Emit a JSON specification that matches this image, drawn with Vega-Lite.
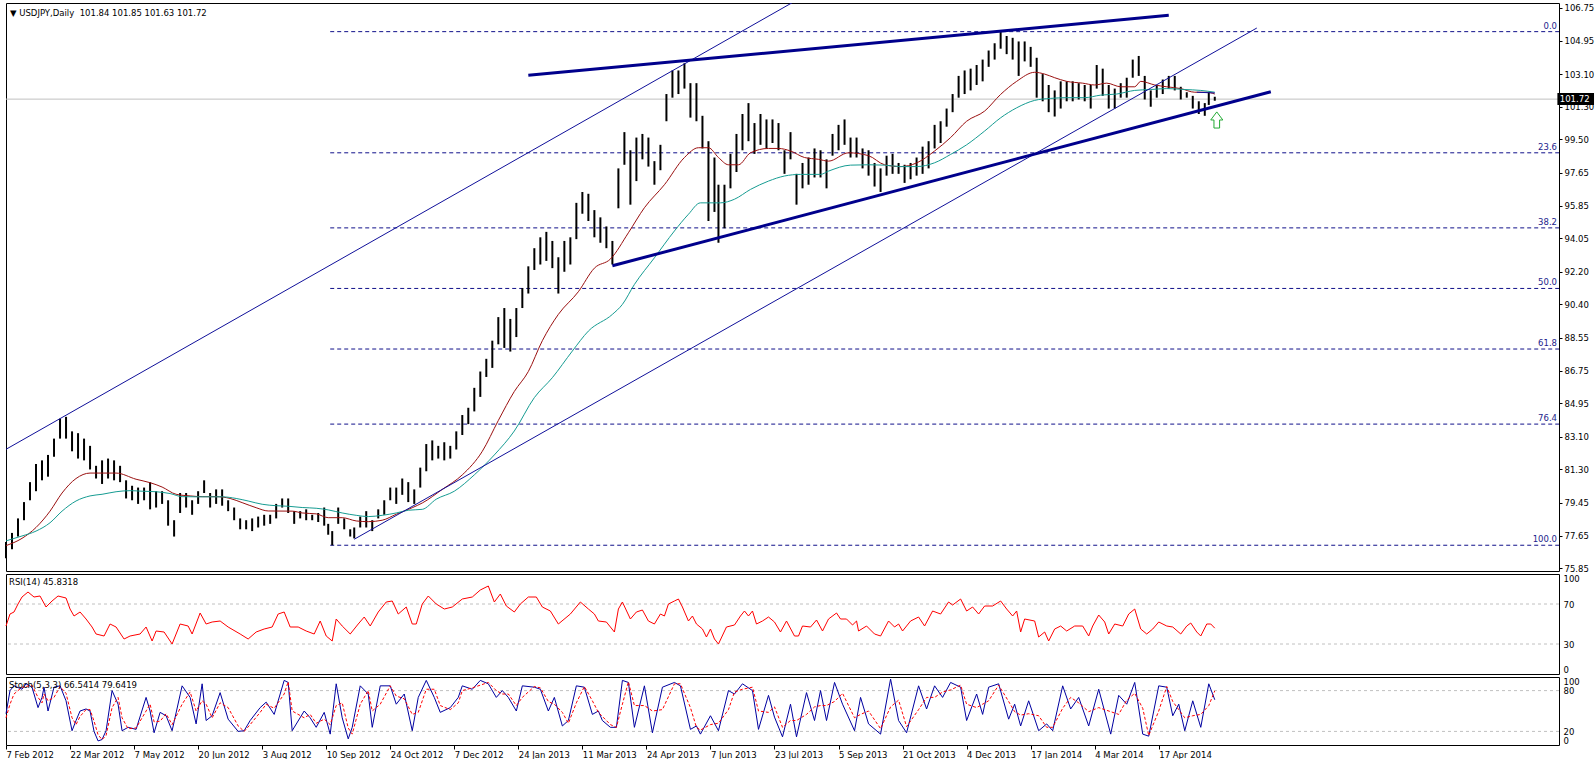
{
"$schema":"https://vega.github.io/schema/vega-lite/v6.json",
"padding":{"left":3,"top":2,"right":0,"bottom":0},
"background":"white",
"spacing":3,
"bounds":"flush",
"config":{"view":{"stroke":"black","strokeWidth":1},"font":"DejaVu Sans",
"axis":{"labelFont":"DejaVu Sans","labelFontSize":8.5,"labelColor":"black","tickColor":"black","domain":false,"grid":false,"labelOverlap":false,"labelSeparation":0},
"title":{"font":"DejaVu Sans","fontSize":8.5,"fontWeight":"normal","color":"black","anchor":"start","frame":"group"}},
"datasets":{
"px":[{"i":0,"h":77.3,"l":76.4},{"i":3,"h":77.8,"l":76.9},{"i":6,"h":78.6,"l":77.6},{"i":9,"h":79.5,"l":78.5},{"i":12,"h":80.6,"l":79.6},{"i":15,"h":81.6,"l":80.1},{"i":18,"h":81.8,"l":80.7},{"i":21,"h":82.1,"l":80.9},{"i":24,"h":83.0,"l":82.0},{"i":27,"h":84.1,"l":83.0},{"i":30,"h":84.2,"l":83.0},{"i":33,"h":83.4,"l":82.3},{"i":36,"h":83.3,"l":81.9},{"i":39,"h":83.0,"l":81.8},{"i":42,"h":82.6,"l":81.3},{"i":45,"h":81.5,"l":80.8},{"i":48,"h":81.8,"l":80.5},{"i":51,"h":81.9,"l":80.8},{"i":54,"h":81.8,"l":80.7},{"i":57,"h":81.5,"l":80.6},{"i":60,"h":80.7,"l":79.7},{"i":63,"h":80.4,"l":79.6},{"i":66,"h":80.3,"l":79.4},{"i":69,"h":80.3,"l":79.6},{"i":72,"h":80.6,"l":79.1},{"i":75,"h":80.1,"l":79.2},{"i":78,"h":80.1,"l":79.4},{"i":81,"h":79.6,"l":78.2},{"i":84,"h":78.5,"l":77.6},{"i":87,"h":80.0,"l":78.9},{"i":90,"h":80.0,"l":79.2},{"i":93,"h":79.6,"l":78.8},{"i":96,"h":80.1,"l":79.4},{"i":99,"h":80.7,"l":80.0},{"i":102,"h":80.0,"l":79.2},{"i":105,"h":80.2,"l":79.4},{"i":108,"h":80.2,"l":79.3},{"i":111,"h":79.6,"l":79.0},{"i":114,"h":79.2,"l":78.5},{"i":117,"h":78.6,"l":78.0},{"i":120,"h":78.5,"l":78.0},{"i":123,"h":78.6,"l":77.9},{"i":126,"h":78.7,"l":78.1},{"i":129,"h":78.8,"l":78.2},{"i":132,"h":78.8,"l":78.3},{"i":135,"h":79.4,"l":78.6},{"i":138,"h":79.7,"l":79.2},{"i":141,"h":79.7,"l":78.9},{"i":144,"h":79.0,"l":78.3},{"i":147,"h":79.0,"l":78.6},{"i":150,"h":79.1,"l":78.5},{"i":153,"h":78.8,"l":78.5},{"i":156,"h":78.9,"l":78.4},{"i":159,"h":79.2,"l":78.2},{"i":161,"h":78.3,"l":77.7},{"i":163,"h":77.9,"l":77.12},{"i":166,"h":79.2,"l":78.3},{"i":169,"h":78.6,"l":78.0},{"i":172,"h":78.0,"l":77.6},{"i":174,"h":78.1,"l":77.5},{"i":177,"h":78.7,"l":78.1},{"i":180,"h":79.0,"l":78.1},{"i":183,"h":78.5,"l":77.9},{"i":186,"h":79.1,"l":78.6},{"i":189,"h":79.6,"l":78.8},{"i":192,"h":80.3,"l":79.6},{"i":195,"h":80.3,"l":79.4},{"i":198,"h":80.8,"l":79.9},{"i":201,"h":80.6,"l":79.5},{"i":204,"h":80.2,"l":79.4},{"i":207,"h":81.4,"l":80.3},{"i":210,"h":82.7,"l":81.2},{"i":213,"h":82.9,"l":81.8},{"i":216,"h":82.6,"l":81.9},{"i":219,"h":82.8,"l":81.8},{"i":222,"h":82.6,"l":81.9},{"i":225,"h":83.4,"l":82.4},{"i":228,"h":84.3,"l":83.2},{"i":231,"h":84.7,"l":83.8},{"i":234,"h":85.8,"l":84.5},{"i":237,"h":86.7,"l":85.3},{"i":240,"h":87.4,"l":86.4},{"i":243,"h":88.4,"l":86.9},{"i":246,"h":89.7,"l":88.2},{"i":249,"h":90.2,"l":88.0},{"i":252,"h":89.6,"l":87.8},{"i":255,"h":90.2,"l":88.6},{"i":258,"h":91.3,"l":90.2},{"i":261,"h":92.5,"l":91.0},{"i":264,"h":93.5,"l":92.3},{"i":267,"h":94.1,"l":92.6},{"i":270,"h":94.4,"l":92.8},{"i":273,"h":93.9,"l":92.4},{"i":276,"h":93.0,"l":91.0},{"i":279,"h":93.9,"l":92.2},{"i":282,"h":94.1,"l":92.6},{"i":285,"h":96.0,"l":94.0},{"i":288,"h":96.6,"l":95.4},{"i":291,"h":96.5,"l":95.0},{"i":294,"h":95.6,"l":94.1},{"i":297,"h":95.2,"l":93.8},{"i":300,"h":94.7,"l":93.5},{"i":303,"h":93.9,"l":92.6},{"i":306,"h":97.9,"l":95.7},{"i":309,"h":99.9,"l":98.1},{"i":312,"h":98.9,"l":95.9},{"i":315,"h":99.6,"l":97.2},{"i":318,"h":99.8,"l":98.4},{"i":321,"h":99.6,"l":98.0},{"i":324,"h":98.3,"l":97.0},{"i":327,"h":99.2,"l":97.8},{"i":330,"h":102.0,"l":100.5},{"i":333,"h":103.3,"l":101.8},{"i":336,"h":103.3,"l":102.0},{"i":339,"h":103.7,"l":102.3},{"i":342,"h":102.6,"l":100.7},{"i":345,"h":102.6,"l":100.5},{"i":348,"h":100.8,"l":99.0},{"i":351,"h":99.4,"l":95.0},{"i":354,"h":98.5,"l":95.5},{"i":356,"h":97.0,"l":93.8},{"i":359,"h":97.0,"l":94.6},{"i":362,"h":98.7,"l":96.8},{"i":365,"h":99.8,"l":97.7},{"i":368,"h":100.9,"l":98.9},{"i":371,"h":101.5,"l":99.4},{"i":374,"h":100.4,"l":98.7},{"i":377,"h":100.9,"l":99.2},{"i":380,"h":100.6,"l":99.0},{"i":383,"h":100.6,"l":99.3},{"i":386,"h":100.4,"l":98.9},{"i":389,"h":98.9,"l":97.6},{"i":392,"h":99.9,"l":98.4},{"i":395,"h":97.6,"l":95.9},{"i":398,"h":98.2,"l":96.8},{"i":401,"h":98.5,"l":97.0},{"i":404,"h":99.0,"l":97.4},{"i":407,"h":98.9,"l":97.4},{"i":410,"h":98.4,"l":96.8},{"i":413,"h":99.8,"l":98.6},{"i":416,"h":100.3,"l":98.9},{"i":419,"h":100.6,"l":99.2},{"i":422,"h":99.6,"l":98.5},{"i":425,"h":99.6,"l":98.5},{"i":428,"h":99.0,"l":97.9},{"i":431,"h":98.9,"l":97.5},{"i":434,"h":98.2,"l":96.9},{"i":437,"h":97.9,"l":96.6},{"i":440,"h":98.6,"l":97.5},{"i":443,"h":98.7,"l":97.6},{"i":446,"h":98.2,"l":97.6},{"i":449,"h":98.1,"l":97.1},{"i":452,"h":98.2,"l":97.3},{"i":455,"h":98.5,"l":97.5},{"i":458,"h":99.1,"l":97.6},{"i":461,"h":99.4,"l":97.9},{"i":464,"h":100.3,"l":99.0},{"i":467,"h":100.5,"l":99.3},{"i":470,"h":101.2,"l":100.2},{"i":473,"h":102.0,"l":101.0},{"i":476,"h":103.0,"l":101.8},{"i":479,"h":103.3,"l":102.0},{"i":482,"h":103.4,"l":102.2},{"i":485,"h":103.6,"l":102.5},{"i":488,"h":103.9,"l":102.7},{"i":491,"h":104.4,"l":103.5},{"i":494,"h":104.8,"l":103.9},{"i":497,"h":105.44,"l":104.5},{"i":500,"h":105.2,"l":104.2},{"i":503,"h":105.1,"l":103.9},{"i":506,"h":104.9,"l":103.0},{"i":509,"h":104.9,"l":103.8},{"i":512,"h":104.6,"l":103.5},{"i":515,"h":104.0,"l":101.8},{"i":518,"h":103.1,"l":101.6},{"i":521,"h":102.5,"l":101.0},{"i":524,"h":102.2,"l":100.76},{"i":527,"h":102.7,"l":101.2},{"i":530,"h":102.7,"l":101.6},{"i":533,"h":102.7,"l":101.6},{"i":536,"h":102.6,"l":101.7},{"i":539,"h":102.5,"l":101.6},{"i":542,"h":102.5,"l":101.2},{"i":545,"h":103.6,"l":102.3},{"i":548,"h":103.4,"l":101.9},{"i":551,"h":102.5,"l":101.2},{"i":554,"h":102.3,"l":101.2},{"i":557,"h":102.6,"l":101.8},{"i":560,"h":102.9,"l":101.8},{"i":563,"h":103.9,"l":102.9},{"i":566,"h":104.1,"l":103.0},{"i":569,"h":103.0,"l":101.7},{"i":572,"h":102.2,"l":101.3},{"i":575,"h":102.5,"l":101.8},{"i":578,"h":102.8,"l":102.0},{"i":581,"h":103.0,"l":102.3},{"i":584,"h":103.0,"l":102.2},{"i":587,"h":102.4,"l":101.7},{"i":590,"h":102.1,"l":101.8},{"i":593,"h":101.9,"l":101.2},{"i":596,"h":101.6,"l":100.9},{"i":599,"h":101.5,"l":100.8},{"i":601,"h":102.1,"l":101.4},{"i":604,"h":101.85,"l":101.63}],
"ma1":[{"i":0,"v":77.1},{"i":8,"v":77.5},{"i":15,"v":78.1},{"i":22,"v":79.0},{"i":28,"v":80.0},{"i":35,"v":80.8},{"i":42,"v":81.1},{"i":48,"v":81.1},{"i":55,"v":81.1},{"i":65,"v":80.76},{"i":72,"v":80.57},{"i":78,"v":80.33},{"i":85,"v":79.93},{"i":92,"v":79.84},{"i":98,"v":79.8},{"i":105,"v":79.8},{"i":112,"v":79.7},{"i":118,"v":79.47},{"i":125,"v":79.19},{"i":131,"v":79.01},{"i":143,"v":79.0},{"i":148,"v":78.9},{"i":155,"v":78.85},{"i":161,"v":78.64},{"i":168,"v":78.64},{"i":175,"v":78.46},{"i":181,"v":78.42},{"i":188,"v":78.5},{"i":195,"v":78.83},{"i":203,"v":79.19},{"i":208,"v":79.45},{"i":218,"v":80.2},{"i":228,"v":81.0},{"i":238,"v":82.3},{"i":246,"v":84.0},{"i":254,"v":85.6},{"i":261,"v":86.7},{"i":268,"v":88.4},{"i":276,"v":89.85},{"i":286,"v":91.1},{"i":294,"v":92.4},{"i":302,"v":92.9},{"i":311,"v":94.35},{"i":319,"v":95.73},{"i":329,"v":97.0},{"i":339,"v":98.5},{"i":346,"v":99.04},{"i":351,"v":99.04},{"i":356,"v":98.5},{"i":361,"v":98.1},{"i":366,"v":98.1},{"i":372,"v":98.76},{"i":381,"v":99.0},{"i":386,"v":99.0},{"i":392,"v":98.86},{"i":399,"v":98.5},{"i":406,"v":98.4},{"i":411,"v":98.3},{"i":421,"v":98.76},{"i":431,"v":98.6},{"i":439,"v":98.1},{"i":447,"v":98.0},{"i":455,"v":98.2},{"i":464,"v":98.86},{"i":472,"v":99.6},{"i":480,"v":100.5},{"i":489,"v":101.06},{"i":497,"v":101.98},{"i":505,"v":102.7},{"i":514,"v":103.2},{"i":519,"v":103.1},{"i":524,"v":102.9},{"i":530,"v":102.7},{"i":538,"v":102.6},{"i":544,"v":102.5},{"i":550,"v":102.6},{"i":557,"v":102.4},{"i":564,"v":102.4},{"i":567,"v":102.7},{"i":574,"v":102.5},{"i":580,"v":102.4},{"i":587,"v":102.3},{"i":594,"v":102.1},{"i":600,"v":102.1},{"i":604,"v":102.0}],
"ma2":[{"i":0,"v":77.36},{"i":8,"v":77.63},{"i":15,"v":77.9},{"i":22,"v":78.36},{"i":28,"v":79.0},{"i":35,"v":79.56},{"i":42,"v":79.84},{"i":48,"v":79.93},{"i":55,"v":80.07},{"i":62,"v":80.13},{"i":68,"v":80.1},{"i":75,"v":80.07},{"i":82,"v":79.97},{"i":88,"v":79.8},{"i":95,"v":79.79},{"i":108,"v":79.79},{"i":115,"v":79.7},{"i":121,"v":79.56},{"i":128,"v":79.38},{"i":135,"v":79.3},{"i":141,"v":79.27},{"i":148,"v":79.2},{"i":155,"v":79.16},{"i":161,"v":79.07},{"i":168,"v":78.9},{"i":175,"v":78.77},{"i":181,"v":78.7},{"i":188,"v":78.77},{"i":195,"v":78.9},{"i":201,"v":79.05},{"i":208,"v":79.1},{"i":215,"v":79.66},{"i":224,"v":80.1},{"i":234,"v":81.0},{"i":244,"v":82.1},{"i":254,"v":83.42},{"i":264,"v":85.26},{"i":273,"v":86.36},{"i":283,"v":87.83},{"i":291,"v":88.93},{"i":303,"v":89.85},{"i":308,"v":90.4},{"i":314,"v":91.5},{"i":324,"v":92.97},{"i":334,"v":94.45},{"i":341,"v":95.37},{"i":347,"v":96.0},{"i":357,"v":96.0},{"i":364,"v":96.2},{"i":372,"v":96.74},{"i":381,"v":97.2},{"i":389,"v":97.48},{"i":397,"v":97.57},{"i":407,"v":97.57},{"i":411,"v":97.75},{"i":422,"v":98.08},{"i":431,"v":98.1},{"i":439,"v":98.08},{"i":447,"v":98.0},{"i":455,"v":98.0},{"i":464,"v":98.21},{"i":472,"v":98.67},{"i":480,"v":99.2},{"i":489,"v":99.96},{"i":497,"v":100.69},{"i":505,"v":101.24},{"i":514,"v":101.65},{"i":522,"v":101.76},{"i":530,"v":101.8},{"i":539,"v":101.8},{"i":547,"v":101.94},{"i":555,"v":102.0},{"i":564,"v":102.2},{"i":572,"v":102.25},{"i":580,"v":102.3},{"i":589,"v":102.25},{"i":597,"v":102.2},{"i":604,"v":102.1}],
"thin":[{"g":"a","i":0,"p":82.41},{"g":"a","i":420,"p":108.74},{"g":"b","i":174,"p":77.45},{"g":"b","i":625,"p":105.64},{"g":"e","i":595,"p":102.1},{"g":"e","i":604,"p":102.06}],
"thick":[{"g":"c","i":261,"p":103.03},{"g":"c","i":581,"p":106.34},{"g":"d","i":303,"p":92.53},{"g":"d","i":632,"p":102.13}],
"fib":[{"lv":"0.0","p":105.44},{"lv":"23.6","p":98.76},{"lv":"38.2","p":94.62},{"lv":"50.0","p":91.28},{"lv":"61.8","p":87.94},{"lv":"76.4","p":83.8},{"lv":"100.0","p":77.12}],
"rsi":[{"i":0,"r":48},{"i":2,"r":60},{"i":4,"r":62},{"i":6,"r":70},{"i":8,"r":77},{"i":11,"r":82},{"i":14,"r":77},{"i":17,"r":78},{"i":20,"r":67},{"i":23,"r":73},{"i":26,"r":78},{"i":30,"r":76},{"i":32,"r":65},{"i":34,"r":58},{"i":37,"r":62},{"i":40,"r":55},{"i":43,"r":47},{"i":45,"r":40},{"i":49,"r":38},{"i":52,"r":50},{"i":55,"r":47},{"i":59,"r":35},{"i":62,"r":38},{"i":67,"r":40},{"i":70,"r":47},{"i":73,"r":33},{"i":75,"r":43},{"i":79,"r":42},{"i":83,"r":30},{"i":87,"r":50},{"i":91,"r":48},{"i":93,"r":40},{"i":97,"r":61},{"i":100,"r":50},{"i":103,"r":52},{"i":107,"r":53},{"i":111,"r":47},{"i":117,"r":40},{"i":121,"r":35},{"i":125,"r":42},{"i":129,"r":45},{"i":133,"r":47},{"i":136,"r":60},{"i":139,"r":62},{"i":142,"r":47},{"i":146,"r":47},{"i":150,"r":43},{"i":154,"r":40},{"i":157,"r":53},{"i":160,"r":38},{"i":163,"r":33},{"i":165,"r":55},{"i":168,"r":48},{"i":172,"r":40},{"i":176,"r":50},{"i":179,"r":57},{"i":182,"r":48},{"i":186,"r":62},{"i":190,"r":72},{"i":193,"r":73},{"i":196,"r":60},{"i":200,"r":67},{"i":203,"r":50},{"i":205,"r":50},{"i":208,"r":70},{"i":211,"r":78},{"i":215,"r":70},{"i":219,"r":65},{"i":223,"r":67},{"i":228,"r":75},{"i":233,"r":77},{"i":237,"r":84},{"i":241,"r":88},{"i":244,"r":72},{"i":247,"r":80},{"i":250,"r":68},{"i":254,"r":62},{"i":257,"r":70},{"i":261,"r":77},{"i":265,"r":77},{"i":268,"r":67},{"i":272,"r":63},{"i":276,"r":50},{"i":282,"r":60},{"i":287,"r":72},{"i":291,"r":65},{"i":294,"r":60},{"i":296,"r":53},{"i":300,"r":52},{"i":304,"r":42},{"i":306,"r":65},{"i":308,"r":72},{"i":312,"r":55},{"i":315,"r":62},{"i":318,"r":64},{"i":321,"r":53},{"i":324,"r":50},{"i":327,"r":60},{"i":329,"r":58},{"i":331,"r":70},{"i":334,"r":73},{"i":336,"r":75},{"i":338,"r":67},{"i":341,"r":53},{"i":343,"r":58},{"i":345,"r":50},{"i":348,"r":45},{"i":350,"r":37},{"i":352,"r":45},{"i":354,"r":35},{"i":356,"r":30},{"i":360,"r":47},{"i":364,"r":49},{"i":367,"r":58},{"i":369,"r":63},{"i":371,"r":58},{"i":373,"r":63},{"i":375,"r":50},{"i":378,"r":53},{"i":381,"r":57},{"i":384,"r":52},{"i":387,"r":42},{"i":390,"r":53},{"i":394,"r":38},{"i":396,"r":38},{"i":398,"r":48},{"i":402,"r":47},{"i":405,"r":54},{"i":408,"r":43},{"i":411,"r":55},{"i":415,"r":61},{"i":417,"r":55},{"i":420,"r":55},{"i":423,"r":49},{"i":425,"r":53},{"i":426,"r":43},{"i":430,"r":48},{"i":434,"r":40},{"i":437,"r":38},{"i":441,"r":53},{"i":444,"r":47},{"i":446,"r":50},{"i":448,"r":43},{"i":452,"r":53},{"i":456,"r":57},{"i":459,"r":48},{"i":463,"r":63},{"i":467,"r":60},{"i":471,"r":72},{"i":473,"r":69},{"i":477,"r":75},{"i":480,"r":63},{"i":483,"r":67},{"i":486,"r":60},{"i":489,"r":68},{"i":493,"r":68},{"i":497,"r":73},{"i":500,"r":65},{"i":503,"r":58},{"i":505,"r":63},{"i":507,"r":42},{"i":509,"r":55},{"i":514,"r":53},{"i":516,"r":37},{"i":519,"r":42},{"i":521,"r":33},{"i":524,"r":45},{"i":527,"r":48},{"i":530,"r":43},{"i":534,"r":48},{"i":538,"r":48},{"i":541,"r":38},{"i":543,"r":48},{"i":546,"r":59},{"i":549,"r":52},{"i":551,"r":40},{"i":554,"r":50},{"i":558,"r":48},{"i":561,"r":60},{"i":564,"r":65},{"i":567,"r":45},{"i":570,"r":40},{"i":573,"r":45},{"i":576,"r":52},{"i":580,"r":48},{"i":583,"r":47},{"i":587,"r":40},{"i":590,"r":48},{"i":592,"r":51},{"i":595,"r":42},{"i":597,"r":38},{"i":600,"r":50},{"i":602,"r":50},{"i":604,"r":45.83}],
"st":[{"i":0,"k":46,"d":40},{"i":2,"k":80,"d":60},{"i":4,"k":87,"d":75},{"i":8,"k":82,"d":85},{"i":10,"k":90,"d":86},{"i":13,"k":85,"d":88},{"i":16,"k":55,"d":70},{"i":18,"k":70,"d":62},{"i":19,"k":85,"d":75},{"i":21,"k":50,"d":65},{"i":24,"k":85,"d":70},{"i":27,"k":87,"d":86},{"i":30,"k":65,"d":76},{"i":33,"k":21,"d":40},{"i":35,"k":36,"d":30},{"i":37,"k":50,"d":42},{"i":40,"k":53,"d":52},{"i":42,"k":50,"d":52},{"i":44,"k":20,"d":35},{"i":46,"k":6,"d":15},{"i":48,"k":8,"d":8},{"i":50,"k":21,"d":14},{"i":53,"k":80,"d":55},{"i":56,"k":60,"d":70},{"i":58,"k":21,"d":40},{"i":61,"k":26,"d":24},{"i":65,"k":23,"d":25},{"i":70,"k":70,"d":50},{"i":72,"k":50,"d":60},{"i":74,"k":18,"d":34},{"i":77,"k":48,"d":35},{"i":80,"k":43,"d":46},{"i":83,"k":21,"d":30},{"i":88,"k":87,"d":60},{"i":92,"k":70,"d":78},{"i":95,"k":31,"d":50},{"i":98,"k":90,"d":65},{"i":100,"k":36,"d":60},{"i":103,"k":43,"d":40},{"i":107,"k":77,"d":62},{"i":111,"k":38,"d":55},{"i":116,"k":20,"d":28},{"i":119,"k":21,"d":20},{"i":122,"k":36,"d":30},{"i":127,"k":55,"d":48},{"i":130,"k":63,"d":60},{"i":134,"k":45,"d":54},{"i":139,"k":95,"d":75},{"i":141,"k":92,"d":93},{"i":143,"k":21,"d":50},{"i":149,"k":50,"d":40},{"i":152,"k":40,"d":45},{"i":155,"k":26,"d":32},{"i":159,"k":48,"d":38},{"i":162,"k":16,"d":30},{"i":165,"k":90,"d":58},{"i":168,"k":40,"d":62},{"i":171,"k":9,"d":25},{"i":173,"k":26,"d":16},{"i":177,"k":87,"d":60},{"i":181,"k":75,"d":80},{"i":183,"k":26,"d":50},{"i":187,"k":87,"d":60},{"i":192,"k":87,"d":87},{"i":195,"k":60,"d":72},{"i":199,"k":75,"d":68},{"i":203,"k":21,"d":45},{"i":206,"k":70,"d":48},{"i":210,"k":95,"d":82},{"i":214,"k":70,"d":82},{"i":217,"k":48,"d":58},{"i":222,"k":55,"d":52},{"i":226,"k":70,"d":62},{"i":228,"k":87,"d":80},{"i":233,"k":82,"d":84},{"i":237,"k":95,"d":88},{"i":241,"k":90,"d":92},{"i":245,"k":70,"d":80},{"i":248,"k":80,"d":75},{"i":251,"k":70,"d":75},{"i":255,"k":50,"d":58},{"i":258,"k":87,"d":70},{"i":264,"k":85,"d":86},{"i":267,"k":82,"d":84},{"i":271,"k":50,"d":64},{"i":274,"k":70,"d":60},{"i":278,"k":28,"d":48},{"i":281,"k":36,"d":32},{"i":285,"k":87,"d":62},{"i":289,"k":85,"d":86},{"i":293,"k":45,"d":65},{"i":296,"k":50,"d":48},{"i":298,"k":36,"d":42},{"i":302,"k":26,"d":30},{"i":305,"k":26,"d":26},{"i":308,"k":95,"d":60},{"i":311,"k":92,"d":93},{"i":314,"k":26,"d":58},{"i":319,"k":87,"d":58},{"i":323,"k":18,"d":50},{"i":328,"k":85,"d":52},{"i":334,"k":92,"d":90},{"i":337,"k":87,"d":90},{"i":342,"k":23,"d":55},{"i":345,"k":28,"d":26},{"i":347,"k":16,"d":22},{"i":352,"k":43,"d":30},{"i":356,"k":21,"d":32},{"i":361,"k":80,"d":52},{"i":364,"k":75,"d":78},{"i":368,"k":90,"d":82},{"i":373,"k":80,"d":85},{"i":376,"k":23,"d":50},{"i":381,"k":73,"d":48},{"i":384,"k":41,"d":56},{"i":388,"k":12,"d":26},{"i":392,"k":60,"d":36},{"i":395,"k":12,"d":36},{"i":400,"k":77,"d":45},{"i":404,"k":36,"d":56},{"i":407,"k":80,"d":58},{"i":410,"k":36,"d":58},{"i":414,"k":92,"d":64},{"i":418,"k":60,"d":76},{"i":424,"k":21,"d":40},{"i":427,"k":70,"d":45},{"i":431,"k":31,"d":50},{"i":437,"k":16,"d":24},{"i":442,"k":97,"d":56},{"i":446,"k":36,"d":66},{"i":450,"k":18,"d":27},{"i":456,"k":87,"d":52},{"i":460,"k":53,"d":70},{"i":464,"k":87,"d":70},{"i":468,"k":70,"d":78},{"i":472,"k":92,"d":81},{"i":477,"k":85,"d":88},{"i":480,"k":36,"d":60},{"i":485,"k":75,"d":55},{"i":488,"k":45,"d":60},{"i":491,"k":85,"d":65},{"i":496,"k":90,"d":88},{"i":501,"k":38,"d":64},{"i":504,"k":60,"d":49},{"i":507,"k":28,"d":44},{"i":511,"k":65,"d":46},{"i":516,"k":21,"d":43},{"i":520,"k":31,"d":26},{"i":523,"k":21,"d":26},{"i":528,"k":87,"d":54},{"i":532,"k":53,"d":70},{"i":536,"k":70,"d":62},{"i":541,"k":28,"d":49},{"i":546,"k":82,"d":55},{"i":552,"k":16,"d":49},{"i":556,"k":73,"d":45},{"i":560,"k":60,"d":66},{"i":564,"k":92,"d":76},{"i":568,"k":16,"d":54},{"i":571,"k":13,"d":14},{"i":576,"k":87,"d":50},{"i":580,"k":85,"d":86},{"i":583,"k":43,"d":64},{"i":586,"k":60,"d":52},{"i":589,"k":21,"d":40},{"i":593,"k":65,"d":43},{"i":597,"k":26,"d":45},{"i":601,"k":90,"d":58},{"i":604,"k":66.54,"d":79.64}]
},
"vconcat":[
{"width":1553,"height":568,
"title":{"text":"▼ USDJPY,Daily\u00a0\u00a0101.84 101.85 101.63 101.72","offset":-14,"dx":4},
"layer":[
{"data":{"name":"fib"},"mark":{"type":"rule","color":"#10108a","strokeDash":[4,3],"strokeWidth":1},
"encoding":{"x":{"datum":162,"type":"quantitative","scale":{"domain":[0,776],"nice":false,"zero":false},"axis":null},"x2":{"datum":776},
"y":{"field":"p","type":"quantitative","title":null,"scale":{"domain":[75.70,107.02],"nice":false,"zero":false},
"axis":{"orient":"right","values":[75.85,77.65,79.45,81.3,83.1,84.95,86.75,88.55,90.4,92.2,94.05,95.85,97.65,99.5,101.3,103.1,104.95,106.75],"tickCount":100,"format":".2f","tickSize":3,"labelPadding":2,"labelOverlap":false,"labelFlush":false,"labelBaseline":"middle"}}}},
{"data":{"name":"fib"},"mark":{"type":"text","color":"#1c1c8c","align":"right","baseline":"bottom","dy":-1,"fontSize":8.5,"font":"DejaVu Sans"},
"encoding":{"x":{"datum":775,"type":"quantitative","axis":null},"y":{"field":"p","type":"quantitative","title":null},"text":{"field":"lv"}}},
{"data":{"values":[{}]},"mark":{"type":"rule","color":"#c0c0c0","strokeWidth":1},"encoding":{"y":{"datum":101.72,"type":"quantitative","title":null}}},
{"data":{"name":"px"},"mark":{"type":"rule","color":"black","strokeWidth":2},
"encoding":{"x":{"field":"i","type":"quantitative","axis":null},"y":{"field":"l","type":"quantitative","title":null},"y2":{"field":"h"}}},
{"data":{"name":"ma1"},"mark":{"type":"line","color":"#9a1010","strokeWidth":1,"interpolate":"monotone"},
"encoding":{"x":{"field":"i","type":"quantitative","axis":null},"y":{"field":"v","type":"quantitative","title":null}}},
{"data":{"name":"ma2"},"mark":{"type":"line","color":"#169c92","strokeWidth":1,"interpolate":"monotone"},
"encoding":{"x":{"field":"i","type":"quantitative","axis":null},"y":{"field":"v","type":"quantitative","title":null}}},
{"data":{"name":"thin"},"mark":{"type":"line","color":"#10109a","strokeWidth":1,"clip":true},
"encoding":{"x":{"field":"i","type":"quantitative","axis":null},"y":{"field":"p","type":"quantitative","title":null},"detail":{"field":"g"}}},
{"data":{"name":"thick"},"mark":{"type":"line","color":"#00008c","strokeWidth":3,"clip":true},
"encoding":{"x":{"field":"i","type":"quantitative","axis":null},"y":{"field":"p","type":"quantitative","title":null},"detail":{"field":"g"}}},
{"data":{"values":[{}]},"mark":{"type":"point","shape":"M -0.35 1 L -0.35 0 L -0.75 0 L 0 -1 L 0.75 0 L 0.35 0 L 0.35 1 Z","size":260,"filled":true,"fill":"white","stroke":"#22aa33","strokeWidth":1,"opacity":1},
"encoding":{"x":{"datum":605,"type":"quantitative","axis":null},"y":{"datum":100.57,"type":"quantitative","title":null}}},
{"data":{"values":[{}]},"mark":{"type":"rect","color":"black","clip":false},
"encoding":{"x":{"datum":775.2,"type":"quantitative","axis":null},"x2":{"datum":793.5},"y":{"datum":102.06,"type":"quantitative","title":null},"y2":{"datum":101.40}}},
{"data":{"values":[{}]},"mark":{"type":"text","color":"white","align":"left","baseline":"middle","fontSize":8.5,"font":"DejaVu Sans","clip":false,"text":"101.72"},
"encoding":{"x":{"datum":776.4,"type":"quantitative","axis":null},"y":{"datum":101.72,"type":"quantitative","title":null}}}
]},
{"width":1553,"height":100,
"title":{"text":"RSI(14) 45.8318","offset":-13,"dx":3},
"layer":[
{"data":{"values":[{"v":70},{"v":30}]},"mark":{"type":"rule","color":"#c0c0c0","strokeDash":[3,3],"strokeWidth":1},
"encoding":{"y":{"field":"v","type":"quantitative","title":null,"scale":{"domain":[0,100],"nice":false},
"axis":{"orient":"right","values":[0,30,70,100],"tickCount":100,"tickSize":0,"labelPadding":4,"labelFlush":true,"labelOverlap":false}}}},
{"data":{"name":"rsi"},"mark":{"type":"line","color":"#ff0000","strokeWidth":1},
"encoding":{"x":{"field":"i","type":"quantitative","scale":{"domain":[0,776],"nice":false,"zero":false},"axis":null},"y":{"field":"r","type":"quantitative","title":null}}}
]},
{"width":1553,"height":68,
"title":{"text":"Stoch(5,3,3) 66.5414 79.6419","offset":-13,"dx":3},
"layer":[
{"data":{"values":[{"v":80},{"v":20}]},"mark":{"type":"rule","color":"#c0c0c0","strokeDash":[3,3],"strokeWidth":1},
"encoding":{"y":{"field":"v","type":"quantitative","title":null,"scale":{"domain":[0,100],"nice":false},
"axis":{"orient":"right","values":[0,20,80,100],"tickCount":100,"tickSize":0,"labelPadding":4,"labelFlush":true,"labelOverlap":false}}}},
{"data":{"name":"st"},"mark":{"type":"line","color":"#0000a0","strokeWidth":1},
"encoding":{"x":{"field":"i","type":"quantitative","title":null,"scale":{"domain":[0,776],"nice":false,"zero":false},
"axis":{"orient":"bottom","values":[0,32,64,96,128,160,192,224,256,288,320,352,384,416,448,480,512,544,576],"tickCount":100,
"labelExpr":"['7 Feb 2012','22 Mar 2012','7 May 2012','20 Jun 2012','3 Aug 2012','10 Sep 2012','24 Oct 2012','7 Dec 2012','24 Jan 2013','11 Mar 2013','24 Apr 2013','7 Jun 2013','23 Jul 2013','5 Sep 2013','21 Oct 2013','4 Dec 2013','17 Jan 2014','4 Mar 2014','17 Apr 2014'][round(datum.value/32)]",
"labelAlign":"left","tickSize":4,"labelPadding":1,"labelOverlap":false,"labelFlush":false}},
"y":{"field":"k","type":"quantitative","title":null}}},
{"data":{"name":"st"},"mark":{"type":"line","color":"#ff0000","strokeWidth":1,"strokeDash":[3,2]},
"encoding":{"x":{"field":"i","type":"quantitative","title":null},"y":{"field":"d","type":"quantitative","title":null}}}
]}
]
}
